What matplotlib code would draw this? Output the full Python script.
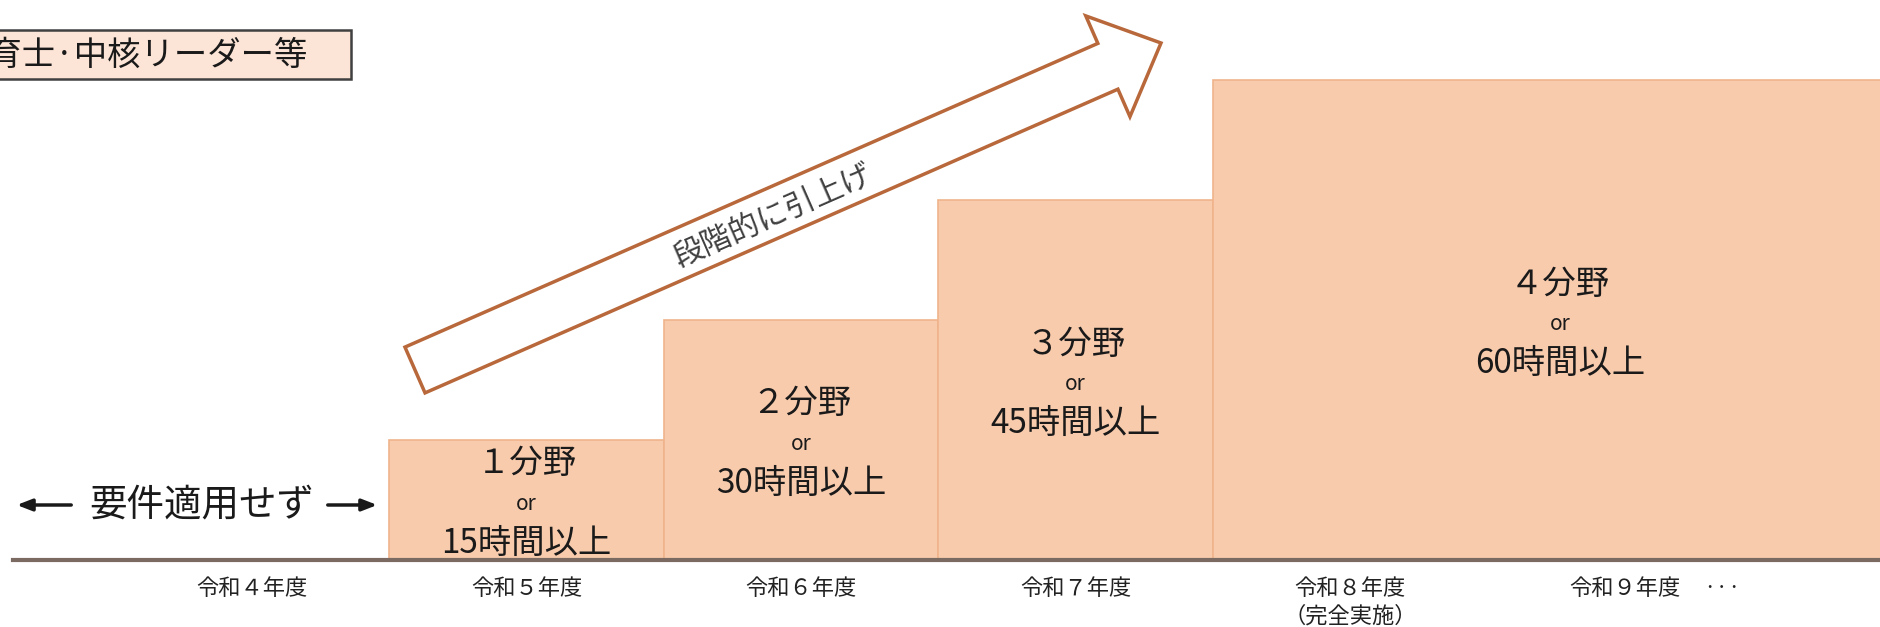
import matplotlib
matplotlib.use("Agg")
import matplotlib.pyplot as plt
import matplotlib.patches as mpatches
from matplotlib.transforms import Affine2D
import numpy as np

plt.rcParams['font.family'] = ['Noto Sans CJK JP', 'DejaVu Sans']

# data
years = ['令和４年度', '令和５年度', '令和６年度', '令和７年度', '令和８年度', '令和９年度']
year_notes = ['', '', '', '', '（完全実施）', '']
fields = [0, 1, 2, 3, 4, 4]
hours = [0, 15, 30, 45, 60, 60]
field_labels = ['', '１分野', '２分野', '３分野', '４分野', '４分野']

W, H = 1880, 627
fig = plt.figure(figsize=(W / 100, H / 100), dpi=100)
ax = fig.add_axes([0, 0, 1, 1])
ax.set_xlim(-252 / 274.5, (W - 252) / 274.5)
ax.set_ylim(-67 / 120, 560 / 120)
ax.axis('off')

# pixel transform (origin bottom-left)
px = Affine2D().scale(1 / W, 1 / H) + fig.transFigure

fill = '#F8CBAD'
edge = '#EFB48C'
xmax = ax.get_xlim()[1]

# bars: merge years with same level, last one runs off the edge
i = 0
while i < len(fields):
    if fields[i] == 0:
        i += 1
        continue
    j = i
    while j + 1 < len(fields) and fields[j + 1] == fields[i]:
        j += 1
    left = i - 0.5
    right = xmax + 0.1 if j == len(fields) - 1 else j + 0.5
    ax.bar(left, fields[i], width=right - left, align='edge',
           color=fill, edgecolor=edge, linewidth=1.2, zorder=2)
    cx = (left + right) / 2
    yc = 0.5 * fields[i] + 0.3
    ax.text(cx, yc, field_labels[i], ha='center', va='center',
            fontsize=24, color='#1a1a1a', zorder=3)
    ax.text(cx, yc - 0.33, 'or', ha='center', va='center',
            fontsize=15, color='#1a1a1a', zorder=3)
    ax.text(cx, yc - 0.66, f'{hours[i]}時間以上', ha='center', va='center',
            fontsize=24, color='#1a1a1a', zorder=3)
    i = j + 1

# baseline
ax.axhline(0, xmin=13 / W, xmax=1, color='#7A6A62', linewidth=3, zorder=4)

# year labels
for k, (y, n) in enumerate(zip(years, year_notes)):
    ax.text(k, -0.235, y, ha='center', va='center', fontsize=16, color='#222222')
    if n:
        ax.text(k, -0.47, n, ha='center', va='center', fontsize=16, color='#222222')
ax.text((1722 - 252) / 274.5, -0.235, '···', ha='center', va='center',
        fontsize=16, color='#222222')

# not applicable label with arrows
yn = 122
ax.text(202, yn, '要件適用せず', transform=px, ha='center', va='center',
        fontsize=27, color='#1a1a1a')
ax.annotate('', xy=(14, yn), xytext=(74, yn), xycoords=px, textcoords=px,
            arrowprops=dict(arrowstyle='-|>,head_length=0.9,head_width=0.35',
                            color='#1a1a1a', lw=2.5))
ax.annotate('', xy=(380, yn), xytext=(325, yn), xycoords=px, textcoords=px,
            arrowprops=dict(arrowstyle='-|>,head_length=0.9,head_width=0.35',
                            color='#1a1a1a', lw=2.5))

# big hollow arrow
tail = np.array([415, 257])
tip = np.array([1161, 584])
d = tip - tail
arrow = mpatches.FancyArrow(tail[0], tail[1], d[0], d[1], width=50,
                            head_width=110, head_length=58,
                            length_includes_head=True, transform=px,
                            facecolor='white', edgecolor='#B8683A',
                            linewidth=2.5, zorder=5)
fig.patches.append(arrow)
ang = np.degrees(np.arctan2(d[1], d[0]))
fig.text(773 / W, 411 / H, '段階的に引上げ', rotation=ang, rotation_mode='anchor',
         ha='center', va='center', fontsize=22, color='#404040', zorder=6)

# title box, cut off at left
box = mpatches.Rectangle((-10, 548), 361, 49, transform=px,
                         facecolor='#FCE4D6', edgecolor='#404040',
                         linewidth=1.8, zorder=5)
fig.patches.append(box)
fig.text(308 / W, 572 / H, '保育士·中核リーダー等', ha='right', va='center',
         fontsize=24, color='#1a1a1a', zorder=6)

fig.savefig('out.png', dpi=100)
